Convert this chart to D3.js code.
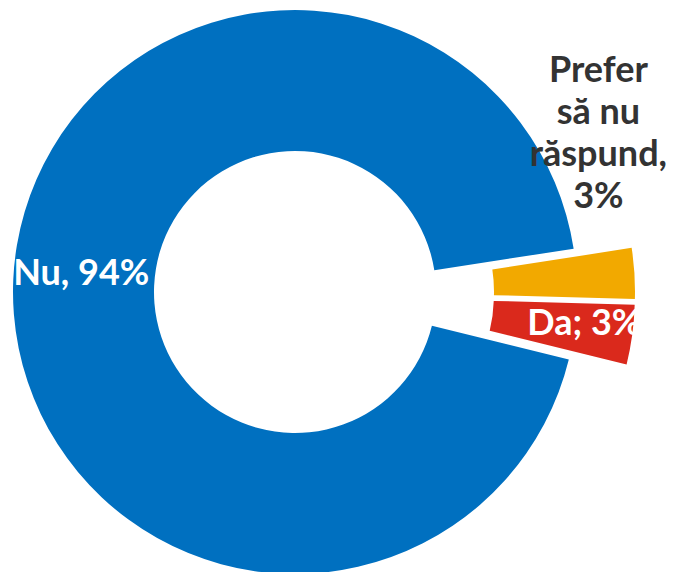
<!DOCTYPE html>
<html><head><meta charset="utf-8">
<script src="https://cdn.jsdelivr.net/npm/d3@7"></script>
<style>html,body{margin:0;padding:0;background:#fff;overflow:hidden}</style>
</head><body>
<svg id="chart" width="674" height="572"></svg>
<script>
// ---- data ----
const categories = ["Da", "Nu", "Prefer să nu răspund"];
const values = [3.4, 93.7, 2.9];
const separators = ["; ", ", ", ", "];
const preferLines = ["Prefer", "să nu", "răspund,"];
const colors = ["#DA291C", "#0070C0", "#F2A900"];

// ---- layout ----
const W = 674, H = 572, cx = 295, cy = 292, R = 282, r0 = 141, explode = 58;
const TAU = 2 * Math.PI;
const startRad = 91.6 * Math.PI / 180;
const total = d3.sum(values);
const pct = d3.format(".0%");

const svg = d3.select("#chart");
const g = svg.append("g").attr("transform", `translate(${cx},${cy})`);

const data = categories.map((c, i) => ({cat: c, value: values[i], color: colors[i], sep: separators[i]}));
const pie = d3.pie().sort(null).value(d => d.value)
  .startAngle(startRad).endAngle(startRad + TAU);
const arcs = pie(data);
const arc = d3.arc().innerRadius(r0).outerRadius(R);
const exploded = new Set(["Da", "Prefer să nu răspund"]);
const mid = a => (((a.startAngle + a.endAngle) / 2) % TAU + TAU) % TAU;
const pt = (ang, rad) => [rad * Math.sin(ang), -rad * Math.cos(ang)];
// group direction of the exploded slices
const exArcs = arcs.filter(a => exploded.has(a.data.cat));
const groupMid = d3.mean(exArcs, mid);
function offset(a) {
  return exploded.has(a.data.cat) ? pt((mid(a) + groupMid) / 2, explode) : [0, 0];
}

g.selectAll("path.slice").data(arcs).join("path")
  .attr("class", "slice")
  .attr("d", arc)
  .attr("fill", d => d.data.color)
  .attr("transform", d => `translate(${offset(d)})`);

const font = "Lato, 'Open Sans', sans-serif";
const fs = 36;
const labelOf = d => d.data.cat + d.data.sep + pct(d.data.value / total);

// Nu label (inside, left)
const aNu = arcs[1];
const pNu = pt(mid(aNu), 214);
g.append("text")
  .attr("x", pNu[0]).attr("y", pNu[1]).attr("dy", 2.3)
  .attr("text-anchor", "middle")
  .attr("font-family", font).attr("font-weight", 700).attr("font-size", fs)
  .attr("fill", "#ffffff")
  .text(labelOf(aNu));

// Da label (inside exploded slice)
const aDa = arcs[0];
const oDa = offset(aDa);
const pDa = pt(mid(aDa), 233.6);
g.append("text")
  .attr("x", pDa[0] + oDa[0]).attr("y", pDa[1] + oDa[1]).attr("dy", 7)
  .attr("text-anchor", "middle")
  .attr("font-family", font).attr("font-weight", 700).attr("font-size", fs)
  .attr("fill", "#ffffff")
  .text(labelOf(aDa));

// Prefer label (outside, above)
const aPr = arcs[2];
const oPr = offset(aPr);
const pPr = pt(mid(aPr), R);
const ax = pPr[0] + oPr[0] - 36, lastBase = pPr[1] + oPr[1] - 65;
const lines = preferLines.concat([pct(aPr.data.value / total)]);
const lh = 42;
const t = g.append("text")
  .attr("text-anchor", "middle")
  .attr("font-family", font).attr("font-weight", 700).attr("font-size", fs)
  .attr("fill", "#333333");
lines.forEach((ln, i) => {
  t.append("tspan").attr("x", ax).attr("y", lastBase - (lines.length - 1 - i) * lh).text(ln);
});
</script>
</body></html>
